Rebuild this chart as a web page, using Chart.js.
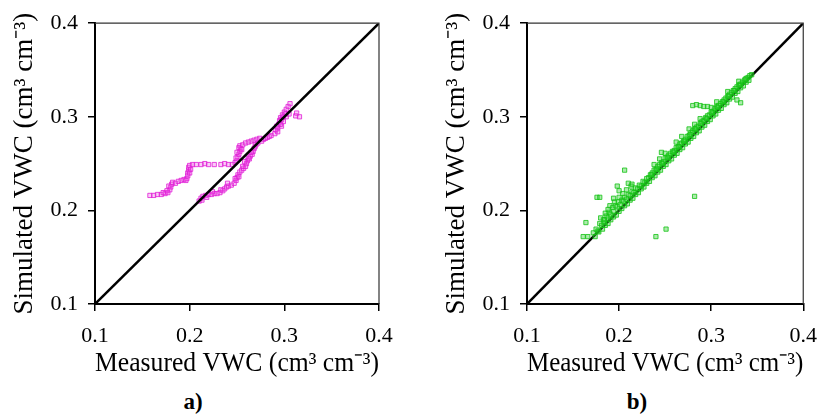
<!DOCTYPE html>
<html>
<head>
<meta charset="utf-8">
<script src="https://cdn.jsdelivr.net/npm/chart.js@4.4.1/dist/chart.umd.min.js"></script>
<style>
  html, body { margin: 0; padding: 0; background: #fff; }
  body { width: 829px; height: 418px; position: relative; overflow: hidden; }
  canvas { position: absolute; top: 0; }
  #chartA { left: 0; }
  #chartB { left: 432px; }
  .panel-label {
    position: absolute; top: 389px; width: 40px; text-align: center;
    font-family: "Liberation Serif", "Times New Roman", serif;
    font-weight: bold; font-size: 23px; color: #000;
  }
</style>
</head>
<body>
<canvas id="chartA" width="432" height="380"></canvas>
<canvas id="chartB" width="397" height="380"></canvas>
<div class="panel-label" style="left:173px">a)</div>
<div class="panel-label" style="left:617px">b)</div>

<script>
// axis ticks (both axes, both panels)
const tickVals = [0.1, 0.2, 0.3, 0.4];

// 1:1 line
const oneToOneX = [0.1, 0.4];
const oneToOneY = [0.1, 0.4];

// panel a) measured / simulated pairs
const pointsA = [
    [0.158,0.216],[0.162,0.216],[0.166,0.217],[0.170,0.217],[0.174,0.218],[0.177,0.219],
    [0.179,0.222],[0.180,0.225],[0.181,0.228],[0.182,0.230],[0.185,0.229],[0.188,0.231],
    [0.191,0.232],[0.194,0.233],[0.197,0.234],[0.198,0.237],[0.198,0.240],[0.199,0.243],
    [0.199,0.246],[0.200,0.248],[0.203,0.249],[0.207,0.249],[0.212,0.249],[0.216,0.250],
    [0.220,0.249],[0.226,0.249],[0.233,0.249],[0.237,0.250],[0.241,0.249],[0.245,0.249],
    [0.248,0.251],[0.250,0.253],[0.251,0.257],[0.252,0.260],[0.253,0.263],[0.254,0.266],
    [0.253,0.269],[0.256,0.270],[0.259,0.272],[0.262,0.273],[0.265,0.274],[0.268,0.275],
    [0.271,0.276],[0.274,0.277],[0.278,0.276],[0.282,0.278],[0.286,0.280],[0.290,0.282],
    [0.293,0.284],[0.293,0.288],[0.294,0.292],[0.295,0.296],[0.296,0.299],[0.298,0.302],
    [0.300,0.305],[0.302,0.308],[0.304,0.311],[0.306,0.314],[0.302,0.300],[0.305,0.303],
    [0.312,0.301],[0.316,0.300],[0.313,0.304],[0.297,0.290],[0.299,0.295],[0.291,0.286],
    [0.176,0.221],[0.178,0.226],[0.172,0.219],[0.196,0.232],[0.200,0.240],[0.201,0.244],
    [0.249,0.256],[0.250,0.262],[0.252,0.267],[0.255,0.265],[0.296,0.292],[0.297,0.297],
    [0.299,0.300],[0.301,0.303],[0.292,0.290],
    [0.210,0.210],[0.212,0.213],[0.214,0.215],[0.217,0.216],[0.220,0.217],[0.223,0.217],
    [0.226,0.218],[0.229,0.218],[0.232,0.219],[0.235,0.221],[0.237,0.223],[0.239,0.225],
    [0.241,0.226],[0.244,0.227],[0.247,0.229],[0.249,0.232],[0.250,0.235],[0.251,0.238],
    [0.253,0.241],[0.255,0.243],[0.257,0.245],[0.259,0.247],[0.260,0.250],[0.261,0.253],
    [0.262,0.256],[0.264,0.258],[0.266,0.260],[0.267,0.263],[0.268,0.266],[0.269,0.268],
    [0.270,0.270],[0.272,0.272],[0.276,0.274],[0.280,0.277],[0.284,0.279],
    [0.213,0.211],[0.218,0.214],[0.224,0.220],[0.233,0.222],[0.240,0.229],[0.248,0.234],
    [0.252,0.236],[0.256,0.247],[0.258,0.252],[0.263,0.255],[0.265,0.262]
];

// panel b) measured / simulated pairs
const pointsB = [
    // upper edge of the band
    [0.172,0.176],[0.175,0.180],[0.177,0.178],[0.179,0.186],[0.181,0.184],[0.183,0.190],
    [0.184,0.187],[0.186,0.194],[0.188,0.192],[0.189,0.198],[0.191,0.196],[0.193,0.203],
    [0.194,0.199],[0.196,0.205],[0.198,0.204],[0.199,0.209],[0.201,0.206],[0.203,0.211],
    [0.205,0.210],[0.206,0.214],[0.208,0.212],[0.210,0.217],[0.212,0.216],[0.214,0.220],
    [0.216,0.219],[0.218,0.224],[0.220,0.223],[0.222,0.227],[0.224,0.226],[0.226,0.231],
    [0.228,0.230],[0.230,0.234],[0.232,0.235],[0.234,0.238],[0.236,0.240],[0.238,0.243],
    [0.240,0.244],[0.242,0.247],[0.244,0.249],[0.246,0.251],[0.248,0.252],[0.250,0.256],
    [0.252,0.257],[0.254,0.259],[0.256,0.261],[0.258,0.263],[0.260,0.264],[0.262,0.267],
    [0.264,0.268],[0.266,0.271],[0.268,0.272],[0.270,0.274],[0.272,0.276],[0.274,0.279],
    [0.276,0.280],[0.278,0.283],[0.280,0.285],[0.282,0.287],[0.284,0.289],[0.286,0.290],
    [0.288,0.293],[0.290,0.295],[0.292,0.296],[0.294,0.299],[0.296,0.301],[0.298,0.302],
    [0.300,0.305],[0.302,0.306],[0.304,0.309],[0.306,0.311],[0.308,0.312],[0.310,0.314],
    [0.312,0.316],[0.314,0.318],[0.316,0.320],[0.318,0.322],[0.320,0.324],[0.322,0.326],
    [0.324,0.328],[0.326,0.330],[0.328,0.332],[0.330,0.334],[0.332,0.335],[0.334,0.337],
    [0.336,0.339],[0.338,0.341],[0.340,0.342],[0.342,0.344],[0.344,0.345],
    // lower edge of the band
    [0.174,0.172],[0.178,0.177],[0.182,0.180],[0.185,0.184],[0.188,0.186],[0.191,0.190],
    [0.194,0.193],[0.197,0.195],[0.200,0.199],[0.203,0.202],[0.206,0.205],[0.209,0.207],
    [0.212,0.211],[0.215,0.213],[0.218,0.217],[0.221,0.219],[0.224,0.223],[0.227,0.225],
    [0.230,0.229],[0.233,0.231],[0.236,0.235],[0.239,0.237],[0.242,0.241],[0.245,0.243],
    [0.248,0.247],[0.251,0.249],[0.254,0.253],[0.257,0.255],[0.260,0.259],[0.263,0.261],
    [0.266,0.265],[0.269,0.267],[0.272,0.271],[0.275,0.273],[0.278,0.277],[0.281,0.279],
    [0.284,0.283],[0.287,0.285],[0.290,0.289],[0.293,0.291],[0.296,0.295],[0.299,0.297],
    [0.302,0.301],[0.305,0.303],[0.308,0.307],[0.311,0.309],[0.314,0.313],[0.317,0.315],
    [0.320,0.319],[0.323,0.321],[0.326,0.325],[0.329,0.327],[0.332,0.331],[0.335,0.333],
    [0.338,0.337],[0.341,0.339],
    // middle of the band
    [0.253,0.256],[0.259,0.262],[0.265,0.268],[0.271,0.274],[0.277,0.281],[0.283,0.287],
    [0.289,0.293],[0.295,0.298],[0.301,0.304],[0.307,0.310],[0.313,0.316],[0.319,0.322],
    [0.325,0.328],[0.331,0.334],[0.337,0.340],[0.247,0.250],[0.241,0.244],[0.235,0.238],
    // scatter above the band
    [0.180,0.192],[0.185,0.197],[0.190,0.205],[0.195,0.209],[0.200,0.214],[0.204,0.218],
    [0.208,0.222],[0.213,0.226],[0.238,0.249],[0.244,0.255],[0.250,0.261],[0.262,0.273],
    [0.268,0.279],[0.276,0.287],[0.282,0.292],[0.288,0.298],[0.300,0.310],[0.306,0.316],
    [0.318,0.327],[0.330,0.338],[0.194,0.213],[0.200,0.221],[0.210,0.229],[0.246,0.262],
    // outliers
    [0.164,0.187],[0.161,0.172],[0.166,0.172],[0.179,0.214],[0.176,0.214],[0.206,0.243],
    [0.198,0.226],[0.214,0.228],[0.188,0.201],[0.184,0.190],[0.240,0.172],[0.251,0.180],
    [0.282,0.215],[0.280,0.312],[0.284,0.313],[0.288,0.312],[0.292,0.311],[0.296,0.311],
    [0.332,0.315],[0.328,0.318]
];

const serif = "'Liberation Serif', 'Times New Roman', serif";

// top + right edge of the plot box
const frameBox = {
    id: "frameBox",
    afterDraw(chart) {
        const { ctx, chartArea } = chart;
        ctx.save();
        ctx.strokeStyle = "#333";
        ctx.lineWidth = 1.2;
        ctx.beginPath();
        ctx.moveTo(chartArea.left, chartArea.top);
        ctx.lineTo(chartArea.right, chartArea.top);
        ctx.lineTo(chartArea.right, chartArea.bottom);
        ctx.stroke();
        ctx.restore();
    }
};

function axisOptions(isX, titleText) {
    return {
        type: "linear",
        position: isX ? "bottom" : "left",
        min: 0.1,
        max: 0.4,
        afterBuildTicks: (scale) => {
            scale.ticks = tickVals.map(v => ({ value: v }));
        },
        afterFit: (scale) => {
            if (isX) scale.height = 76;
            else scale.width = 95;
        },
        grid: {
            display: true,
            drawOnChartArea: false,
            drawTicks: true,
            tickLength: 7,
            color: "#000",
            lineWidth: 1.5
        },
        border: { display: true, color: "#000", width: 2 },
        ticks: {
            color: "#000",
            padding: isX ? 12 : 10,
            font: { family: serif, size: 22 },
            callback: (v) => v.toFixed(1)
        },
        title: {
            display: true,
            text: titleText,
            color: "#000",
            font: { family: serif, size: 27 },
            padding: isX ? { top: 0, bottom: 0 } : { top: 9, bottom: 0 }
        }
    };
}

function makePanel(canvasId, pts, color, fill, lineOnTop, padRight) {
    const ctx = document.getElementById(canvasId);
    return new Chart(ctx, {
        type: "scatter",
        data: {
            datasets: [
                {
                    label: "1:1",
                    type: "line",
                    data: oneToOneX.map((x, i) => ({ x: x, y: oneToOneY[i] })),
                    borderColor: "#000",
                    borderWidth: 2.5,
                    pointRadius: 0,
                    fill: false,
                    order: lineOnTop ? 0 : 2
                },
                {
                    label: "VWC",
                    data: pts.map(p => ({ x: p[0], y: p[1] })),
                    pointStyle: "rect",
                    pointRadius: 3,
                    borderWidth: 1,
                    borderColor: color,
                    backgroundColor: fill,
                    order: 1
                }
            ]
        },
        options: {
            responsive: false,
            animation: false,
            layout: { padding: { top: 23, right: padRight, left: 0, bottom: 0 } },
            plugins: {
                legend: { display: false },
                tooltip: { enabled: false }
            },
            scales: {
                x: axisOptions(true, "Measured VWC (cm³ cm⁻³)"),
                y: axisOptions(false, "Simulated VWC (cm³ cm⁻³)")
            }
        },
        plugins: [frameBox]
    });
}

makePanel("chartA", pointsA, "rgba(225, 30, 215, 0.8)", "rgba(235, 90, 225, 0.3)", true, 53);
makePanel("chartB", pointsB, "rgba(20, 195, 20, 0.8)", "rgba(50, 205, 50, 0.4)", false, 18);
</script>
</body>
</html>
